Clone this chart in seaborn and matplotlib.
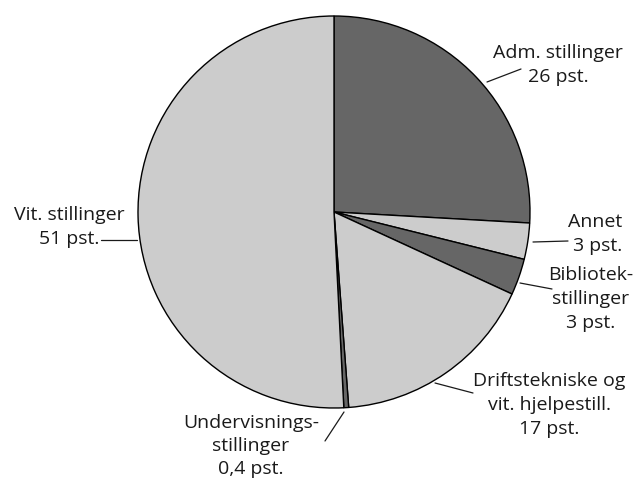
import matplotlib
matplotlib.use("Agg")
import matplotlib.pyplot as plt
import seaborn as sns

categories = ["Adm. stillinger", "Annet", "Bibliotek-\nstillinger", "Driftstekniske og\nvit. hjelpestill.",
              "Undervisnings-\nstillinger", "Vit. stillinger"]
values = [26, 3, 3, 17, 0.4, 51]
value_labels = ["26 pst.", "3 pst.", "3 pst.", "17 pst.", "0,4 pst.", "51 pst."]
colors = ["#666666", "#cccccc", "#666666", "#cccccc", "#666666", "#cccccc"]

sns.set_theme(style="white")
plt.rcParams['font.family'] = ['Open Sans', 'DejaVu Sans']

W, H = 637, 482
CX, CY, R = 334, 212, 196
fig = plt.figure(figsize=(W / 100, H / 100), dpi=100)
ax = fig.add_axes([0, 0, 1, 1])
ax.pie(values, colors=colors, startangle=90, counterclock=False,
       wedgeprops=dict(edgecolor="black", linewidth=1.0))
ax.set_xlim(-CX / R, (W - CX) / R)
ax.set_ylim((CY - H) / R, CY / R)
ax.set_aspect("equal")
ax.axis("off")


def d(px, py):
    return ((px - CX) / R, (CY - py) / R)


# label layout: (text pixel pos, ha, leader start px, leader end px, linespacing)
layout = [
    ((558, 65), "center", (487, 82), (521, 69), 1.45),
    ((622, 234), "right", (533, 242), (568, 241), 1.45),
    ((591, 299), "center", (520, 283), (552, 289), 1.45),
    ((549, 405), "center", (435, 383), (473, 393), 1.45),
    ((251, 446), "center", (344, 412), (325, 441), 1.35),
    ((69, 227), "center", (137, 240), (101, 240), 1.45),
]

for cat, vl, (tp, ha, ls, le, sp) in zip(categories, value_labels, layout):
    ax.text(*d(*tp), cat + "\n" + vl, ha=ha, va="center", fontsize=14,
            color="#1a1a1a", linespacing=sp)
    x0, y0 = d(*ls)
    x1, y1 = d(*le)
    ax.plot([x0, x1], [y0, y1], color="#1a1a1a", lw=0.9)

fig.savefig("out.png", dpi=100)
